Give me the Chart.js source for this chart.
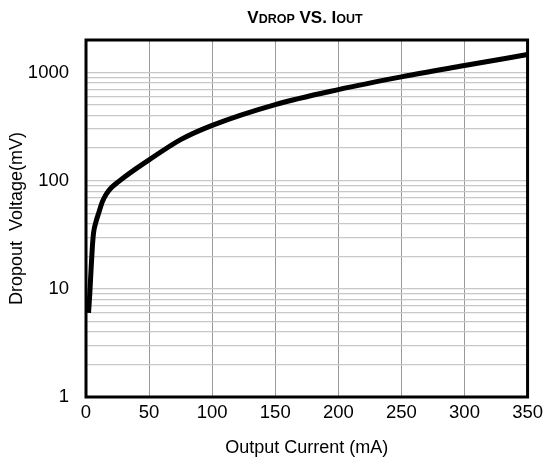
<!DOCTYPE html>
<html>
<head>
<meta charset="utf-8">
<script src="https://cdn.jsdelivr.net/npm/chart.js@4"></script>
<style>
    body { margin: 0; background: #fff; }
    #wrap { width: 548px; height: 464px; }
</style>
</head>
<body>
<div id="wrap"><canvas id="dropChart" width="548" height="464"></canvas></div>
<script>
// Values
const currentMa = [2, 3, 4, 5, 6, 8, 10, 13, 16, 20, 30, 40, 50, 75, 100, 150, 200, 250, 300, 350];
const dropoutMv = [6, 9, 15, 24, 33, 42, 50, 64, 75, 86, 107, 130, 156, 240, 325, 506, 696, 912, 1160, 1468];

// Log axis gridlines (labels only on decades)
const yTickValues = [1, 2, 3, 4, 5, 6, 7, 8, 9,
    10, 20, 30, 40, 50, 60, 70, 80, 90,
    100, 200, 300, 400, 500, 600, 700, 800, 900,
    1000, 2000];
const xTickLabels = [0, 50, 100, 150, 200, 250, 300, 350];

const FONT = 'Arial, "Liberation Sans", sans-serif';

// Title with small-caps subscripts, drawn on the canvas
const titleParts = [['V', 17], ['DROP', 12.5], [' VS. ', 17], ['I', 17], ['OUT', 12.5]];
const titlePlugin = {
    id: 'mixedTitle',
    afterDraw(chart) {
        const ctx = chart.ctx;
        ctx.save();
        ctx.fillStyle = '#000';
        ctx.textBaseline = 'alphabetic';
        let total = 0;
        titleParts.forEach(p => {
            ctx.font = 'bold ' + p[1] + 'px ' + FONT;
            total += ctx.measureText(p[0]).width;
        });
        let x = 305 - total / 2;
        titleParts.forEach(p => {
            ctx.font = 'bold ' + p[1] + 'px ' + FONT;
            ctx.fillText(p[0], x, 23);
            x += ctx.measureText(p[0]).width;
        });
        ctx.restore();
    }
};

// Heavy frame round the plot area
const framePlugin = {
    id: 'frame',
    afterDatasetsDraw(chart) {
        const a = chart.chartArea;
        const ctx = chart.ctx;
        ctx.save();
        ctx.strokeStyle = '#000';
        ctx.lineWidth = 3;
        ctx.strokeRect(a.left, a.top, a.right - a.left, a.bottom - a.top);
        ctx.restore();
    }
};

const ctx = document.getElementById('dropChart').getContext('2d');
new Chart(ctx, {
    type: 'line',
    data: {
        datasets: [{
            data: currentMa.map((x, i) => ({ x: x, y: dropoutMv[i] })),
            borderColor: '#000',
            borderWidth: 5,
            pointRadius: 0,
            cubicInterpolationMode: 'monotone',
            fill: false
        }]
    },
    options: {
        responsive: false,
        animation: false,
        layout: { padding: { top: 40, right: 20, left: 0, bottom: 0 } },
        plugins: { legend: { display: false }, title: { display: false }, tooltip: { enabled: false } },
        scales: {
            x: {
                type: 'linear',
                min: xTickLabels[0],
                max: xTickLabels[xTickLabels.length - 1],
                afterBuildTicks: scale => { scale.ticks = xTickLabels.map(v => ({ value: v })); },
                afterFit: scale => { scale.height = 67; },
                border: { display: false },
                grid: { color: '#999', lineWidth: 1, drawTicks: false },
                ticks: { color: '#000', font: { family: FONT, size: 18.5 }, padding: 5, maxRotation: 0 },
                title: {
                    display: true,
                    text: 'Output Current (mA)',
                    color: '#000',
                    font: { family: FONT, size: 18 },
                    padding: { bottom: 5 }
                }
            },
            y: {
                type: 'logarithmic',
                min: 1,
                max: 2000,
                afterBuildTicks: scale => { scale.ticks = yTickValues.map(v => ({ value: v })); },
                afterFit: scale => { scale.width = 86; },
                border: { display: false },
                grid: { color: '#c8c8c8', lineWidth: 1.3, drawTicks: false },
                ticks: {
                    color: '#000',
                    font: { family: FONT, size: 18.5 },
                    padding: 17,
                    autoSkip: false,
                    callback: v => (Math.log10(v) % 1 === 0 ? String(v) : '')
                },
                title: {
                    display: true,
                    text: 'Dropout  Voltage(mV)',
                    color: '#000',
                    font: { family: FONT, size: 18 },
                    padding: { top: 6 }
                }
            }
        }
    },
    plugins: [titlePlugin, framePlugin]
});
</script>
</body>
</html>
